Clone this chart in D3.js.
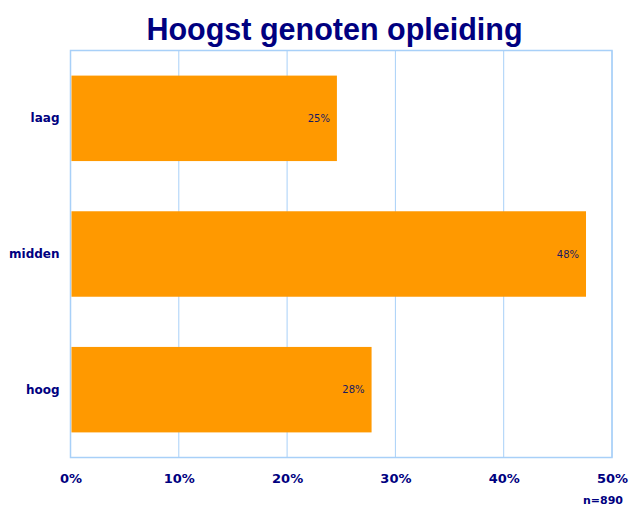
<!DOCTYPE html>
<html>
<head>
<meta charset="utf-8">
<script src="https://cdn.jsdelivr.net/npm/d3@7"></script>
<style>
	body { margin: 0; background: #fff; }
	svg { display: block; }
</style>
</head>
<body>
<div id="chart"></div>
<script>
// data
const categories = ['laag', 'midden', 'hoog'];
const values = [24.6, 47.6, 27.8];
const valueLabels = ['25%', '48%', '28%'];
const ticks = [0, 10, 20, 30, 40, 50];

const width = 633;
const height = 508;
const margin = { top: 50.5, right: 21, bottom: 50.5, left: 70.5 };
const navy = '#000080';
const grid = '#a8d0f8';

const svg = d3.select('#chart').append('svg')
	.attr('width', width)
	.attr('height', height);

const x = d3.scaleLinear()
	.domain([0, 50])
	.range([margin.left, width - margin.right]);

const y = d3.scaleBand()
	.domain(categories)
	.range([margin.top, height - margin.bottom])
	.paddingInner(0.37)
	.paddingOuter(0.185);

// title
svg.append('text')
	.attr('x', 334.5)
	.attr('y', 40)
	.attr('text-anchor', 'middle')
	.attr('font-family', 'Liberation Sans, Arial, sans-serif')
	.attr('font-weight', 'bold')
	.attr('font-size', 30.5)
	.attr('fill', navy)
	.text('Hoogst genoten opleiding');

// gridlines
svg.append('g')
	.selectAll('line')
	.data(ticks)
	.join('line')
	.attr('x1', d => x(d))
	.attr('x2', d => x(d))
	.attr('y1', margin.top)
	.attr('y2', height - margin.bottom)
	.attr('stroke', grid)
	.attr('stroke-width', 1);

// plot border
svg.append('rect')
	.attr('x', margin.left)
	.attr('y', margin.top)
	.attr('width', x(50) - x(0))
	.attr('height', height - margin.top - margin.bottom)
	.attr('fill', 'none')
	.attr('stroke', grid)
	.attr('stroke-width', 1.5);

// bars
svg.append('g')
	.selectAll('rect')
	.data(values)
	.join('rect')
	.attr('x', x(0) + 1)
	.attr('y', (d, i) => y(categories[i]))
	.attr('width', d => x(d) - x(0) - 1)
	.attr('height', y.bandwidth())
	.attr('fill', '#ff9900');

// value labels
svg.append('g')
	.selectAll('text')
	.data(values)
	.join('text')
	.attr('x', d => x(d) - 7)
	.attr('y', (d, i) => y(categories[i]) + y.bandwidth() / 2)
	.attr('dy', '0.35em')
	.attr('text-anchor', 'end')
	.attr('font-family', 'DejaVu Sans, Verdana, sans-serif')
	.attr('font-size', 10)
	.attr('fill', '#1a1a60')
	.text((d, i) => valueLabels[i]);

// category axis
const yAxis = svg.append('g')
	.attr('transform', 'translate(' + (margin.left - 11) + ',0)')
	.call(d3.axisLeft(y).tickSize(0).tickPadding(0));
yAxis.select('.domain').remove();
yAxis.selectAll('text')
	.attr('font-family', 'DejaVu Sans, Verdana, sans-serif')
	.attr('font-weight', 'bold')
	.attr('font-size', 12)
	.attr('fill', navy);

// value axis
const xAxis = svg.append('g')
	.attr('transform', 'translate(0,' + (height - margin.bottom) + ')')
	.call(d3.axisBottom(x).tickValues(ticks).tickFormat(d => d + '%').tickSize(0).tickPadding(16));
xAxis.select('.domain').remove();
xAxis.selectAll('text')
	.attr('font-family', 'DejaVu Sans, Verdana, sans-serif')
	.attr('font-weight', 'bold')
	.attr('font-size', 13)
	.attr('fill', navy);

// sample size
svg.append('text')
	.attr('x', 623)
	.attr('y', 504)
	.attr('text-anchor', 'end')
	.attr('font-family', 'DejaVu Sans, Verdana, sans-serif')
	.attr('font-weight', 'bold')
	.attr('font-size', 11)
	.attr('fill', navy)
	.text('n=890');
</script>
</body>
</html>
